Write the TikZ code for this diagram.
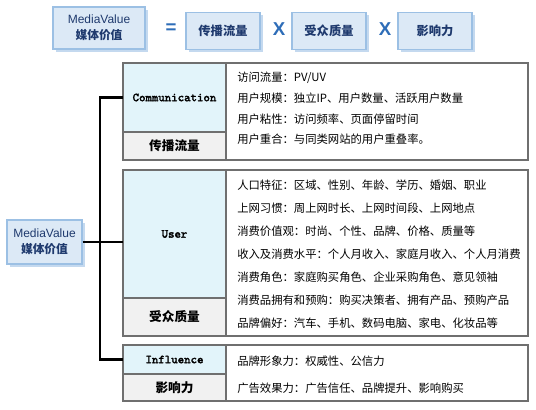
\documentclass[tikz,border=0pt]{standalone}
\usepackage{fontspec}
\setmainfont{Liberation Sans}
\newfontfamily\cjk{Noto Sans CJK SC}
\newfontfamily\headfont{Latin Modern Mono}[AutoFakeBold=2.2]
\usetikzlibrary{shadows}

\definecolor{boxblue}{HTML}{DCE9F6}
\definecolor{boxedge}{HTML}{9CC0E4}
\definecolor{navy}{HTML}{1F3A6E}
\definecolor{signblue}{HTML}{2E6DB8}
\definecolor{headcyan}{HTML}{E2F4FA}
\definecolor{namegray}{HTML}{F1F1F1}
\definecolor{rulegray}{HTML}{6F6F6F}
\newlength\pxu \setlength\pxu{0.75pt}

\begin{document}
\begin{tikzpicture}[x=0.75pt, y=-0.75pt, line join=miter,
  topbox/.style={draw=boxedge, fill=boxblue, line width=0.8pt, text=navy, align=center, inner sep=0pt,
    drop shadow={shadow xshift=2pt, shadow yshift=-2pt, fill=boxedge!60, opacity=1}},
  sign/.style={text=signblue, inner sep=0pt, font=\fontsize{14}{14}\selectfont\bfseries},
  cell/.style={draw=rulegray, line width=1.1pt, anchor=north west, inner sep=0pt, outer sep=0pt},
  headcell/.style={cell, fill=headcyan, minimum width=103\pxu, font=\headfont\bfseries\fontsize{9.2}{10}\selectfont},
  namecell/.style={cell, fill=namegray, minimum width=103\pxu, font=\cjk\bfseries\fontsize{9.5}{10}\selectfont},
  infocell/.style={cell, fill=white, minimum width=302\pxu},
  info/.style={anchor=west, inner sep=0pt, font=\cjk\fontsize{8.5}{10}\selectfont},
  bus/.style={line width=2.2pt}]
\useasboundingbox (0,0) rectangle (536,410);

% ---------- formula row ----------
\node[topbox, minimum width=92\pxu, minimum height=42\pxu] (mvtop) at (99,28)
  {\fontsize{9}{13}\selectfont MediaValue\\\cjk\bfseries\fontsize{8.8}{13}\selectfont 媒体价值};
\node[sign] (eq) at (171,29) {=};
\node[topbox, minimum width=74\pxu, minimum height=37\pxu, font=\cjk\bfseries\fontsize{9.2}{10}\selectfont] (spread) at (223,31) {传播流量};
\node[sign] (x1) at (279,29) {X};
\node[topbox, minimum width=74\pxu, minimum height=37\pxu, font=\cjk\bfseries\fontsize{9.2}{10}\selectfont] (audience) at (329,31) {受众质量};
\node[sign] (x2) at (385,29) {X};
\node[topbox, minimum width=74\pxu, minimum height=37\pxu, font=\cjk\bfseries\fontsize{9.2}{10}\selectfont] (impact) at (435,31) {影响力};

% ---------- root box ----------
\node[topbox, minimum width=75\pxu, minimum height=44\pxu] (lv) at (44.5,242)
  {\fontsize{9}{13}\selectfont MediaValue\\\cjk\bfseries\fontsize{8.8}{13}\selectfont 媒体价值};

% ---------- Communication table ----------
\node[infocell, minimum height=97\pxu] (commtxt) at (226,63) {};
\node[headcell, minimum height=69\pxu] (comm) at (123,63) {Communication};
\node[namecell, minimum height=28\pxu] (commcn) at (123,132) {传播流量};
\foreach \t [count=\i] in {访问流量：PV/UV, 用户规模：独立IP、用户数量、活跃用户数量,
    用户粘性：访问频率、页面停留时间, 用户重合：与同类网站的用户重叠率。}
  \node[info] (c\i) at (237,57.5+20.5*\i) {\t};

% ---------- User table ----------
\node[infocell, minimum height=166\pxu] (usertxt) at (226,170) {};
\node[headcell, minimum height=128\pxu] (user) at (123,170) {User};
\node[namecell, minimum height=38\pxu] (usercn) at (123,298) {受众质量};
\foreach \t [count=\i] in {人口特征：区域、性别、年龄、学历、婚姻、职业,
    上网习惯：周上网时长、上网时间段、上网地点,
    消费价值观：时尚、个性、品牌、价格、质量等,
    收入及消费水平：个人月收入、家庭月收入、个人月消费,
    消费角色：家庭购买角色、企业采购角色、意见领袖,
    消费品拥有和预购：购买决策者、拥有产品、预购产品,
    品牌偏好：汽车、手机、数码电脑、家电、化妆品等}
  \node[info] (u\i) at (237,162+23*\i) {\t};

% ---------- Influence table ----------
\node[infocell, minimum height=56\pxu] (infltxt) at (226,345) {};
\node[headcell, minimum height=29\pxu] (infl) at (123,345) {Influence};
\node[namecell, minimum height=27\pxu] (inflcn) at (123,374) {影响力};
\node[info] (f1) at (237,361) {品牌形象力：权威性、公信力};
\node[info] (f2) at (237,388) {广告效果力：广告信任、品牌提升、影响购买};

% ---------- bus ----------
\draw[bus] (comm.west) -- ++(-23,0) |- (infl.west);
\draw[bus] (lv.east) -- (lv.east -| user.west);

\end{tikzpicture}
\end{document}
